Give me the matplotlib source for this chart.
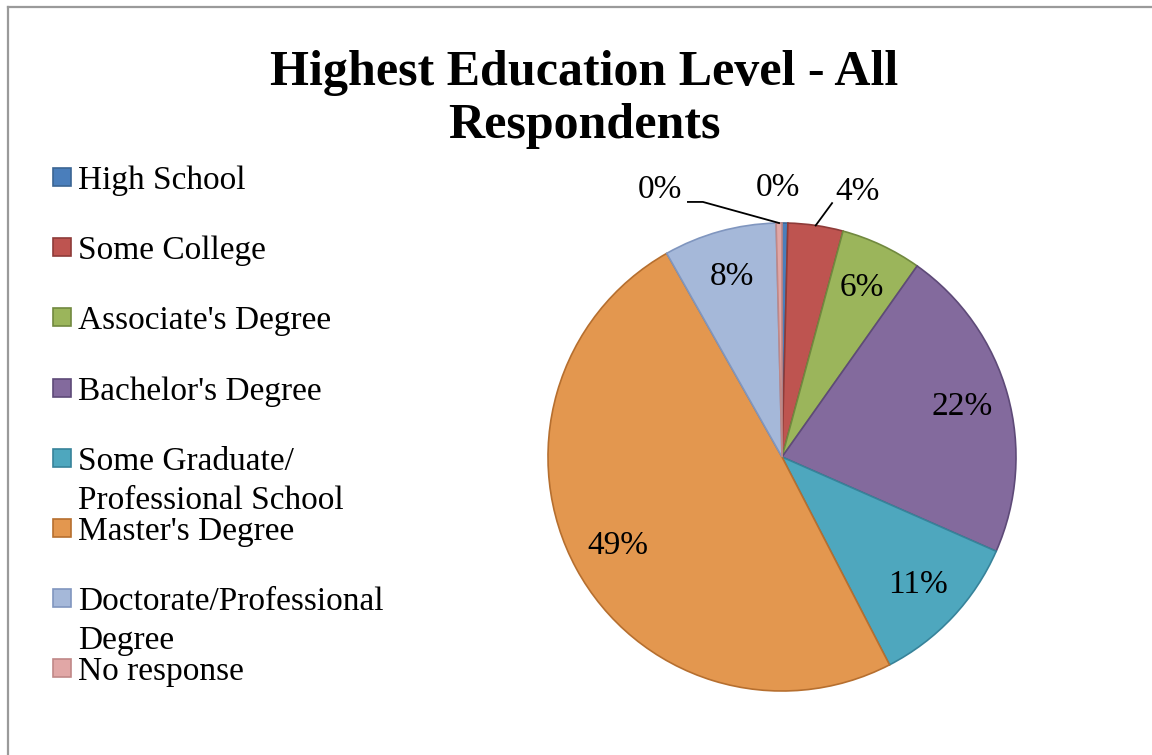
"""Pie chart of highest education level for all survey respondents."""
import matplotlib.pyplot as plt
import matplotlib
import numpy as np
from matplotlib.patches import Rectangle

matplotlib.rcParams['font.family'] = 'Liberation Serif'

# Survey shares (percent of respondents)
categories = ['High School', 'Some College', "Associate's Degree",
              "Bachelor's Degree", 'Some Graduate/\nProfessional School',
              "Master's Degree", 'Doctorate/Professional\nDegree', 'No response']
shares = [0.4, 3.8, 5.6, 21.8, 10.8, 49.4, 7.8, 0.4]

fills = ['#4A7EBB', '#BE5450', '#9BB55B', '#836A9D',
         '#4EA7BE', '#E3974F', '#A5B8D9', '#E1A7A6']
edges = ['#3B6593', '#8E3B39', '#71893F', '#5E4A78',
         '#37839A', '#B66F2F', '#8096BF', '#C08887']

W, H = 1152, 755
fig = plt.figure(figsize=(W / 100, H / 100), dpi=100)

# Pie axes: centre (782, 457) px, radius 234 px
cx, cy, r = 782, 457, 234
ax = fig.add_axes([(cx - r) / W, (H - cy - r) / H, 2 * r / W, 2 * r / H])


def pct_label(p):
    return f'{p:.0f}%' if p >= 5 else ''


wedges, _, autotexts = ax.pie(
    shares, colors=fills, startangle=90, counterclock=False, radius=1,
    autopct=pct_label, pctdistance=0.8,
    wedgeprops=dict(linewidth=1.2),
    textprops=dict(fontsize=24, color='black'))
for w, ec in zip(wedges, edges):
    w.set_edgecolor(ec)

# pie() resets the limits, so fix them afterwards
ax.set_xlim(-1, 1)
ax.set_ylim(-1, 1)
ax.set_aspect('equal')
ax.axis('off')


def edge_point(w, rad=1.0):
    ang = np.deg2rad((w.theta1 + w.theta2) / 2)
    return rad * np.cos(ang), rad * np.sin(ang)


# Small slices labelled outside the pie
hs, sc, nr = wedges[0], wedges[1], wedges[-1]
ax.text(-0.017, 1.15, f'{shares[0]:.0f}%', fontsize=24, ha='center',
        va='center', clip_on=False)

ax.text(0.325, 1.132, f'{shares[1]:.0f}%', fontsize=24, ha='center',
        va='center', clip_on=False)
px, py = edge_point(sc)
ax.plot([px, 0.214], [py, 1.085], color='black', lw=1.3, clip_on=False)

ax.text(-0.521, 1.141, f'{shares[-1]:.0f}%', fontsize=24, ha='center',
        va='center', clip_on=False)
px, py = edge_point(nr)
ax.plot([-0.402, -0.338, px], [1.090, 1.090, py], color='black', lw=1.3,
        clip_on=False)

# Title
fig.text(584 / W, 1 - 85 / H, 'Highest Education Level - All',
         fontsize=36, fontweight='bold', ha='center', va='baseline')
fig.text(584 / W, 1 - 138 / H, 'Respondents',
         fontsize=36, fontweight='bold', ha='center', va='baseline')

# Legend drawn by hand so the swatch lines up with the first text line
base0, step, wrap = 189, 70.2, 39
for i, (label, fc, ec) in enumerate(zip(categories, fills, edges)):
    yb = base0 + i * step
    fig.patches.append(Rectangle((53 / W, 1 - (yb - 3) / H), 18 / W, 18 / H,
                                 transform=fig.transFigure, facecolor=fc,
                                 edgecolor=ec, linewidth=1.2))
    for j, line in enumerate(label.split('\n')):
        fig.text(78 / W, 1 - (yb + j * wrap) / H, line, fontsize=24,
                 ha='left', va='baseline')

# Chart frame (only left and top edges fall inside the image)
fig.add_artist(plt.Line2D([7.5 / W, 7.5 / W], [0, 1 - 7 / H],
                          transform=fig.transFigure, color='#9A9A9A', lw=1.6))
fig.add_artist(plt.Line2D([7.5 / W, 1], [1 - 7 / H, 1 - 7 / H],
                          transform=fig.transFigure, color='#9A9A9A', lw=1.6))

fig.savefig('out.png', dpi=100, facecolor='white')
